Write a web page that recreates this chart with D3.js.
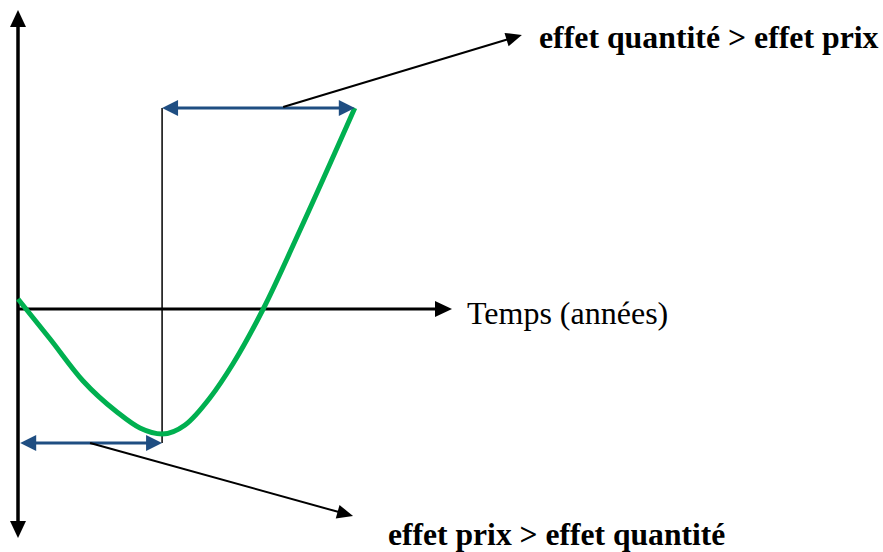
<!DOCTYPE html>
<html>
<head>
<meta charset="utf-8">
<style>
    body { margin: 0; background: #fff; }
    .label { font-family: "Liberation Serif", "Times New Roman", serif; fill: #000; }
    .bold { font-weight: bold; }
</style>
</head>
<body>
<svg id="chart" width="883" height="552"></svg>
<script src="https://cdn.jsdelivr.net/npm/d3@7"></script>
<script>
    // curve: years (x) vs value (y)
    let curveX = [0, 0.74, 1.50, 2.28, 2.81, 3.32, 3.85, 4.42, 4.95, 5.65, 6.50, 7.76]
    let curveY = [0.2, -0.60, -1.44, -2.06, -2.38, -2.50, -2.32, -1.78, -1.10, 0, 1.58, 4.02]

    // axis extents
    let xAxisEnd = 10
    let yAxisTop = 5.98
    let yAxisBottom = -4.58

    // turning point and spans
    let xMin = 3.32
    let lowSpan = { x0: 0.05, x1: 3.32, y: -2.68 }
    let highSpan = { x0: 3.32, x1: 7.76, y: 4.02 }

    // leader arrows
    let leaderTop = { x0: 6.11, y0: 4.04, x1: 11.61, y1: 5.48 }
    let leaderBottom = { x0: 1.66, y0: -2.68, x1: 7.72, y1: -4.14 }

    let labels = ["effet quantité > effet prix", "Temps (années)", "effet prix > effet quantité"]

    let svg = d3.select("#chart")

    let x = d3.scaleLinear().domain([0, 10]).range([18, 452])
    let y = d3.scaleLinear().domain([-5, 6]).range([559, 9])

    // arrow head polygon pointing from (ax,ay) to tip (bx,by), pixel coords
    function head(ax, ay, bx, by, len, half) {
        let dx = bx - ax, dy = by - ay
        let l = Math.sqrt(dx*dx + dy*dy)
        let ux = dx / l, uy = dy / l
        let cx = bx - ux * len, cy = by - uy * len
        return [[bx, by], [cx - uy * half, cy + ux * half], [cx + uy * half, cy - ux * half]]
    }

    function arrow(g, ax, ay, bx, by, color, width, len, half, both) {
        // shorten line so it does not poke through the tip
        let dx = bx - ax, dy = by - ay
        let l = Math.sqrt(dx*dx + dy*dy)
        let ux = dx / l, uy = dy / l
        let sx = both ? ax + ux * len * 0.8 : ax
        let sy = both ? ay + uy * len * 0.8 : ay
        g.append("line")
            .attr("x1", sx).attr("y1", sy)
            .attr("x2", bx - ux * len * 0.8).attr("y2", by - uy * len * 0.8)
            .attr("stroke", color)
            .attr("stroke-width", width)
        g.append("polygon")
            .attr("points", head(ax, ay, bx, by, len, half).join(" "))
            .attr("fill", color)
        if (both) {
            g.append("polygon")
                .attr("points", head(bx, by, ax, ay, len, half).join(" "))
                .attr("fill", color)
        }
    }

    let g = svg.append("g")

    // vertical axis (arrows both ways)
    arrow(g, x(0), y(0), x(0), y(yAxisTop), "#000", 3.5, 17, 8, false)
    arrow(g, x(0), y(0), x(0), y(yAxisBottom), "#000", 3.5, 17, 8, false)

    // horizontal axis
    arrow(g, x(0), y(0), x(xAxisEnd), y(0), "#000", 3, 17, 8, false)

    // thin vertical guide at the minimum
    g.append("line")
        .attr("x1", x(xMin)).attr("x2", x(xMin))
        .attr("y1", y(lowSpan.y)).attr("y2", y(highSpan.y))
        .attr("stroke", "#000")
        .attr("stroke-width", 1.5)

    // green curve
    let pts = curveX.map((d, i) => [d, curveY[i]])
    let line = d3.line()
        .x(d => x(d[0]))
        .y(d => y(d[1]))
        .curve(d3.curveMonotoneX)

    g.append("path")
        .datum(pts)
        .attr("d", line)
        .attr("fill", "none")
        .attr("stroke", "#00b050")
        .attr("stroke-width", 5)

    // blue spans
    let blue = "#1f4e82"
    arrow(g, x(lowSpan.x0), y(lowSpan.y), x(lowSpan.x1), y(lowSpan.y), blue, 3, 16, 8, true)
    arrow(g, x(highSpan.x0), y(highSpan.y), x(highSpan.x1), y(highSpan.y), blue, 3, 16, 8, true)

    // leaders
    arrow(g, x(leaderTop.x0), y(leaderTop.y0), x(leaderTop.x1), y(leaderTop.y1), "#000", 2, 16, 7, false)
    arrow(g, x(leaderBottom.x0), y(leaderBottom.y0), x(leaderBottom.x1), y(leaderBottom.y1), "#000", 2, 16, 7, false)

    // labels
    svg.append("text")
        .attr("class", "label bold")
        .attr("x", 539).attr("y", 48)
        .style("font-size", "31.8px")
        .text(labels[0])

    svg.append("text")
        .attr("class", "label")
        .attr("x", 467).attr("y", 324)
        .style("font-size", "32px")
        .text(labels[1])

    svg.append("text")
        .attr("class", "label bold")
        .attr("x", 388).attr("y", 545)
        .style("font-size", "31.6px")
        .text(labels[2])
</script>
</body>
</html>
